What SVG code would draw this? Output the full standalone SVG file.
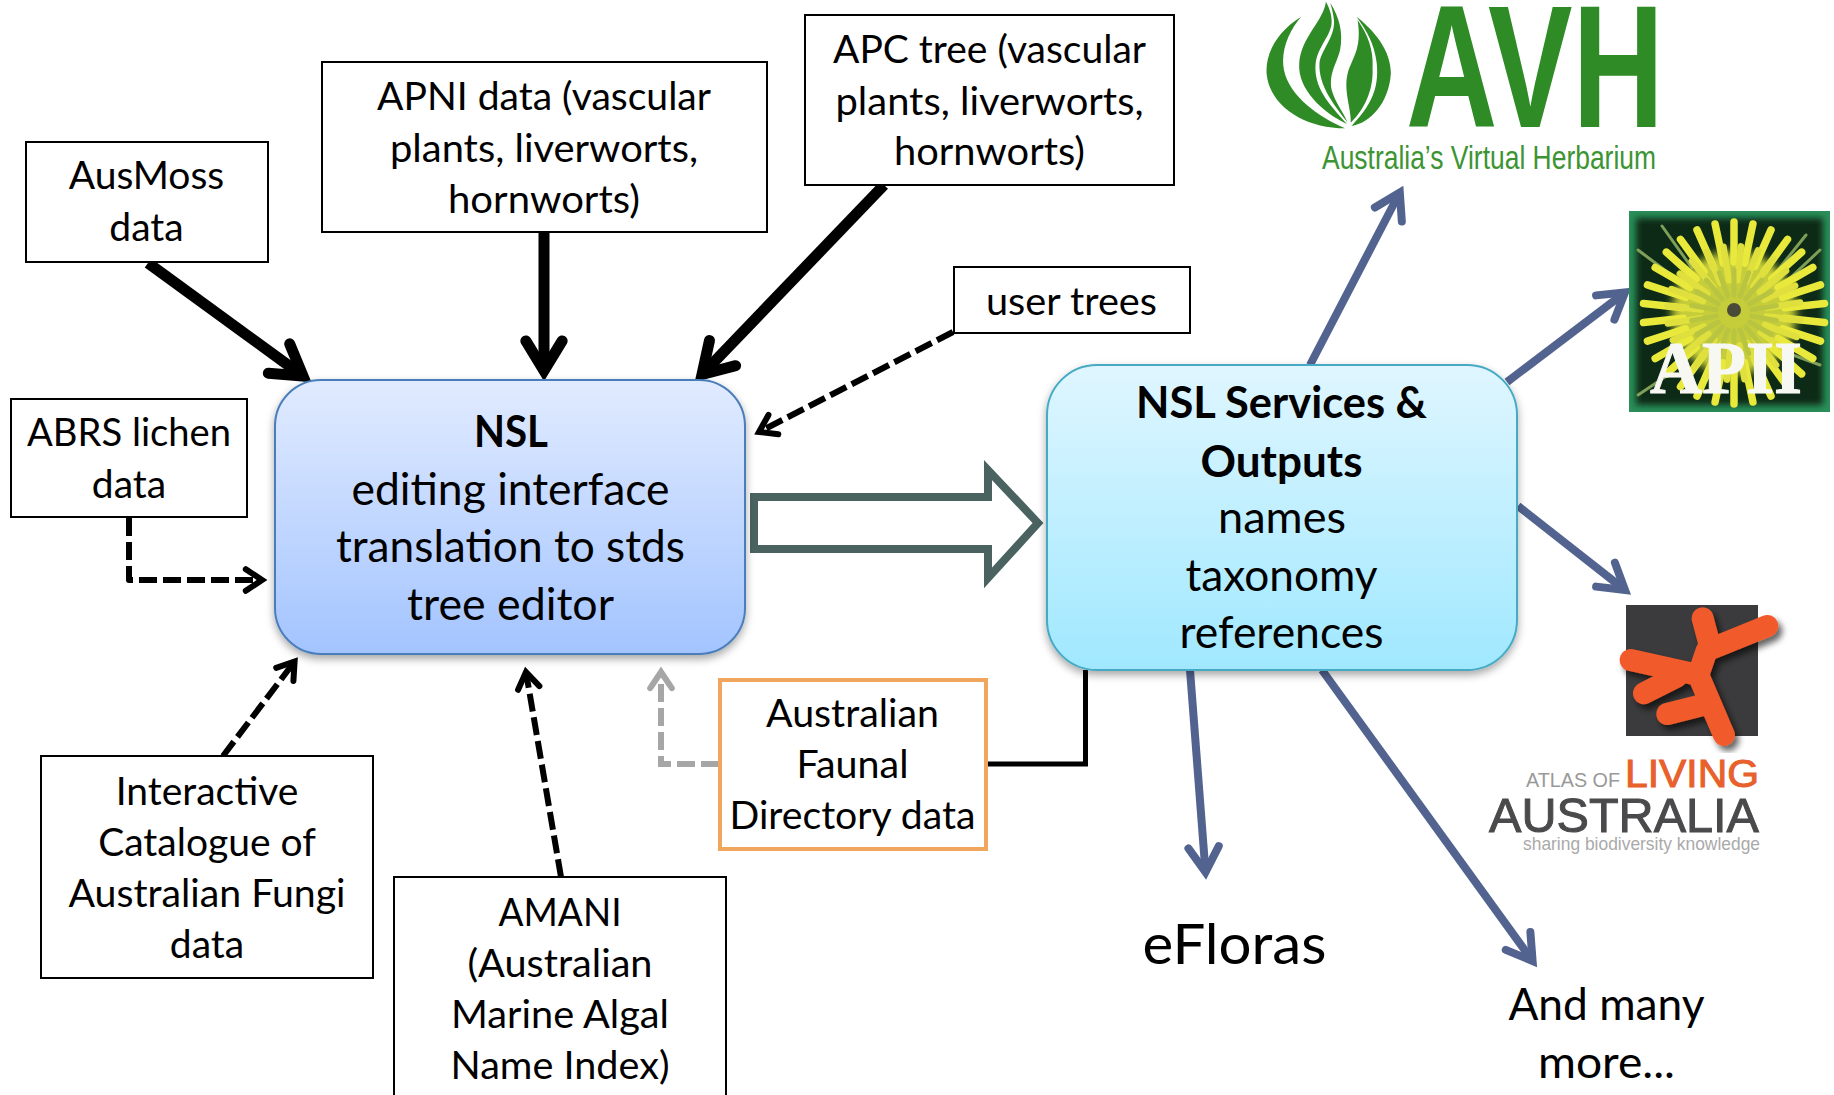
<svg xmlns="http://www.w3.org/2000/svg" width="1834" height="1095" viewBox="0 0 1834 1095">
<style>
text{font-family:"Lato","Open Sans","Liberation Sans",sans-serif;fill:#000}
.t{font-size:39px;text-anchor:middle}
.m{font-size:44px;text-anchor:middle}
.b{font-weight:700}
.box{fill:#fff;stroke:#000;stroke-width:2}
.thick{fill:none;stroke:#000;stroke-width:11;marker-end:url(#hBlack)}
.dash{fill:none;stroke:#000;stroke-width:6;stroke-dasharray:18 6;stroke-linejoin:round;marker-end:url(#hDash)}
.gray{fill:none;stroke:#a6a6a6;stroke-width:6;stroke-dasharray:18 6;marker-end:url(#hGray)}
.blue{fill:none;stroke:#526390;stroke-width:8;marker-end:url(#hBlue)}
.logo{font-family:"Liberation Sans","Open Sans",sans-serif}
.s1{stroke:#e9e93c;stroke-width:7.5;stroke-linecap:round}
.s2{stroke:#dfe03e;stroke-width:6.5;stroke-linecap:round}
.s3{stroke:#b9c540;stroke-width:5;stroke-linecap:round}
.leaf{stroke:#7f9f58;stroke-width:3;stroke-linecap:round}
</style>
<defs>
<marker id="hBlack" markerUnits="strokeWidth" viewBox="-5 -4 7 8" markerWidth="7" markerHeight="8" refX="0" refY="0" orient="auto"><path d="M-2.7,-1.65L0,0L-2.7,1.65" fill="none" stroke="#000" stroke-width="1" stroke-linecap="round" stroke-miterlimit="6"/></marker>
<marker id="hDash" markerUnits="strokeWidth" viewBox="-5 -4 7 8" markerWidth="7" markerHeight="8" refX="0" refY="0" orient="auto"><path d="M-2.7,-1.8L0,0L-2.7,1.8" fill="none" stroke="#000" stroke-width="1" stroke-dasharray="none" stroke-linecap="round" stroke-miterlimit="6"/></marker>
<marker id="hGray" markerUnits="strokeWidth" viewBox="-5 -4 7 8" markerWidth="7" markerHeight="8" refX="0" refY="0" orient="auto"><path d="M-2.7,-1.8L0,0L-2.7,1.8" fill="none" stroke="#a6a6a6" stroke-width="1" stroke-linecap="round" stroke-miterlimit="6"/></marker>
<marker id="hBlue" markerUnits="strokeWidth" viewBox="-5 -4 7 8" markerWidth="7" markerHeight="8" refX="0" refY="0" orient="auto"><path d="M-3.1,-1.9L0,0L-3.1,1.9" fill="none" stroke="#526390" stroke-width="1" stroke-linecap="round" stroke-miterlimit="6"/></marker>
<linearGradient id="gNsl" x1="0" y1="0" x2="0" y2="1"><stop offset="0" stop-color="#e1ebff"/><stop offset="1" stop-color="#a3c4ff"/></linearGradient>
<linearGradient id="gSvc" x1="0" y1="0" x2="0" y2="1"><stop offset="0" stop-color="#dff6ff"/><stop offset="1" stop-color="#a0e8ff"/></linearGradient>
<filter id="sh" x="-5%" y="-5%" width="110%" height="115%"><feDropShadow dx="0" dy="4" stdDeviation="4" flood-color="#000" flood-opacity=".35"/></filter>
<filter id="sh2" x="-10%" y="-10%" width="125%" height="125%"><feDropShadow dx="12" dy="15" stdDeviation="9" flood-color="#000" flood-opacity=".6"/></filter>
<filter id="bl"><feGaussianBlur stdDeviation="5"/></filter>
<filter id="bl2" x="-5%" y="-5%" width="110%" height="110%"><feGaussianBlur stdDeviation="3"/></filter>
<line id="sp1" x1="1734" y1="222" x2="1734" y2="262" class="s1"/>
<line id="sp2" x1="1734" y1="246" x2="1734" y2="280" class="s2"/>
<line id="sp3" x1="1734" y1="270" x2="1734" y2="295" class="s3"/>
</defs>

<g id="connectors">
<line class="thick" x1="148" y1="263" x2="303" y2="376"/>
<line class="thick" x1="544" y1="232" x2="544" y2="370.6"/>
<line class="thick" x1="884" y1="185" x2="702" y2="374.5"/>
<line class="dash" x1="953" y1="332" x2="759" y2="432"/>
<polyline class="dash" points="129,518 129,580 262,580"/>
<line class="dash" x1="223" y1="756" x2="294.6" y2="661.5"/>
<line class="dash" x1="561" y1="877" x2="526" y2="672"/>
<polyline class="gray" points="719,764 661,764 661,672"/>
<polyline points="986,764 1085.5,764 1085.5,670" fill="none" stroke="#000" stroke-width="5"/>
<line class="blue" x1="1310" y1="365" x2="1399.8" y2="192.5"/>
<line class="blue" x1="1507" y1="382" x2="1625" y2="292.5"/>
<line class="blue" x1="1518" y1="506" x2="1625" y2="590"/>
<line class="blue" x1="1190" y1="670" x2="1205.5" y2="872"/>
<line class="blue" x1="1322" y1="670" x2="1532.6" y2="961"/>
</g>

<g id="transfer-arrow"><path d="M754,497H988V470L1038,523L988,578V549H754Z" fill="#fff" stroke="#4a6360" stroke-width="8"/></g>

<g id="node-ausmoss"><rect class="box" x="26" y="142" width="242" height="120"/><text class="t" x="146.5" y="189">AusMoss</text><text class="t" x="146.5" y="241">data</text></g>
<g id="node-apni"><rect class="box" x="322" y="62" width="445" height="170"/><text class="t" x="544" y="110" textLength="334" lengthAdjust="spacingAndGlyphs">APNI data (vascular</text><text class="t" x="544" y="162" textLength="308" lengthAdjust="spacingAndGlyphs">plants, liverworts,</text><text class="t" x="544" y="213" textLength="192" lengthAdjust="spacingAndGlyphs">hornworts)</text></g>
<g id="node-apc"><rect class="box" x="805" y="15" width="369" height="170"/><text class="t" x="989.5" y="63" textLength="313" lengthAdjust="spacingAndGlyphs">APC tree (vascular</text><text class="t" x="989.5" y="115" textLength="308" lengthAdjust="spacingAndGlyphs">plants, liverworts,</text><text class="t" x="989.5" y="165" textLength="191" lengthAdjust="spacingAndGlyphs">hornworts)</text></g>
<g id="node-user"><rect class="box" x="954" y="267" width="236" height="66"/><text class="t" x="1071.5" y="315" textLength="171" lengthAdjust="spacingAndGlyphs">user trees</text></g>
<g id="node-abrs"><rect class="box" x="11" y="399" width="236" height="118"/><text class="t" x="129" y="446" textLength="204" lengthAdjust="spacingAndGlyphs">ABRS lichen</text><text class="t" x="129" y="498">data</text></g>
<g id="node-fungi"><rect class="box" x="41" y="756" width="332" height="222"/><text class="t" x="207" y="805">Interactive</text><text class="t" x="207" y="856">Catalogue of</text><text class="t" x="207" y="907" textLength="277" lengthAdjust="spacingAndGlyphs">Australian Fungi</text><text class="t" x="207" y="958">data</text></g>
<g id="node-amani"><rect class="box" x="394" y="877" width="332" height="230"/><text class="t" x="560" y="926" textLength="123" lengthAdjust="spacingAndGlyphs">AMANI</text><text class="t" x="560" y="977" textLength="185" lengthAdjust="spacingAndGlyphs">(Australian</text><text class="t" x="560" y="1028" textLength="218" lengthAdjust="spacingAndGlyphs">Marine Algal</text><text class="t" x="560" y="1079" textLength="219" lengthAdjust="spacingAndGlyphs">Name Index)</text></g>
<g id="node-faunal"><rect x="720" y="680" width="266" height="169" fill="#fff" stroke="#f0a65c" stroke-width="4"/><text class="t" x="852.5" y="727" textLength="173" lengthAdjust="spacingAndGlyphs">Australian</text><text class="t" x="852.5" y="778" textLength="112" lengthAdjust="spacingAndGlyphs">Faunal</text><text class="t" x="852.5" y="829" textLength="246" lengthAdjust="spacingAndGlyphs">Directory data</text></g>

<g id="node-nsl"><rect x="275" y="380" width="470" height="274" rx="46" fill="url(#gNsl)" stroke="#4a7ebb" stroke-width="2" filter="url(#sh)"/><text class="m b" x="511" y="447" textLength="74" lengthAdjust="spacingAndGlyphs">NSL</text><text class="m" x="510.5" y="505" textLength="318" lengthAdjust="spacingAndGlyphs">editing interface</text><text class="m" x="510.5" y="562" textLength="349" lengthAdjust="spacingAndGlyphs">translation to stds</text><text class="m" x="510.5" y="620" textLength="207" lengthAdjust="spacingAndGlyphs">tree editor</text></g>
<g id="node-services"><rect x="1047" y="365" width="470" height="305" rx="50" fill="url(#gSvc)" stroke="#46aac4" stroke-width="2" filter="url(#sh)"/><text class="m b" x="1281.5" y="418" textLength="291" lengthAdjust="spacingAndGlyphs">NSL Services &amp;</text><text class="m b" x="1281.5" y="477">Outputs</text><text class="m" x="1282" y="533" textLength="128" lengthAdjust="spacingAndGlyphs">names</text><text class="m" x="1281.5" y="591" textLength="192" lengthAdjust="spacingAndGlyphs">taxonomy</text><text class="m" x="1281.5" y="648" textLength="204" lengthAdjust="spacingAndGlyphs">references</text></g>

<g id="node-efloras"><text x="1234.5" y="964" font-size="57" text-anchor="middle" textLength="184" lengthAdjust="spacingAndGlyphs">eFloras</text></g>
<g id="node-more"><text class="m" x="1606.5" y="1020" textLength="196" lengthAdjust="spacingAndGlyphs">And many</text><text class="m" x="1606.5" y="1078" textLength="137" lengthAdjust="spacingAndGlyphs">more...</text></g>

<g id="node-avh">
<g transform="translate(1240,0) scale(.382,.3333)" fill="#2e8b25">
<path d="M160,50C90,100 65,170 70,225C80,320 170,385 275,385C205,350 130,290 115,210C105,150 130,90 160,50Z"/>
<path d="M225,5C218,65 160,110 155,190C150,270 220,340 280,372C232,312 192,262 198,190C203,140 240,105 240,65C240,40 232,20 225,5Z"/>
<path d="M236,8C262,55 270,100 262,150C252,195 232,220 240,270C250,310 270,335 282,368C250,320 205,260 208,190C212,150 250,110 246,60C244,40 240,22 236,8Z"/>
<path d="M305,50C350,90 395,150 395,220C390,310 340,370 292,378C340,320 365,270 358,190C352,130 330,90 305,50Z"/>
<path d="M308,60C335,105 350,150 347,205C350,270 325,330 290,368C292,330 270,270 282,220C292,175 320,150 308,60Z"/>
</g>
<text class="logo" x="1406" y="127" font-size="174" font-weight="700" style="fill:#2e8b25" textLength="258" lengthAdjust="spacingAndGlyphs">AVH</text>
<text class="logo" x="1322" y="169" font-size="33" style="fill:#3c9433" textLength="334" lengthAdjust="spacingAndGlyphs">Australia’s Virtual Herbarium</text>
</g>

<g id="node-api">
<rect x="1629" y="211" width="201" height="201" fill="#2a8f5a"/>
<rect x="1636" y="218" width="187" height="187" fill="#0b2a14" filter="url(#bl2)"/>
<line class="leaf" x1="1662" y1="226" x2="1692" y2="268"/><line class="leaf" x1="1806" y1="235" x2="1778" y2="270"/><line class="leaf" x1="1820" y1="250" x2="1788" y2="280"/><line class="leaf" x1="1638" y1="250" x2="1678" y2="280"/><line class="leaf" x1="1820" y1="365" x2="1793" y2="355"/><line class="leaf" x1="1638" y1="395" x2="1668" y2="375"/>
<circle cx="1734" cy="313" r="62" fill="#c6cd3a" filter="url(#bl)"/>
<g>
<use href="#sp1"/><use href="#sp1" transform="rotate(12 1734 313)"/><use href="#sp1" transform="rotate(24 1734 313)"/><use href="#sp1" transform="rotate(36 1734 313)"/><use href="#sp1" transform="rotate(48 1734 313)"/><use href="#sp1" transform="rotate(60 1734 313)"/><use href="#sp1" transform="rotate(72 1734 313)"/><use href="#sp1" transform="rotate(84 1734 313)"/><use href="#sp1" transform="rotate(96 1734 313)"/><use href="#sp1" transform="rotate(108 1734 313)"/><use href="#sp1" transform="rotate(120 1734 313)"/><use href="#sp1" transform="rotate(132 1734 313)"/><use href="#sp1" transform="rotate(144 1734 313)"/><use href="#sp1" transform="rotate(156 1734 313)"/><use href="#sp1" transform="rotate(168 1734 313)"/><use href="#sp1" transform="rotate(180 1734 313)"/><use href="#sp1" transform="rotate(192 1734 313)"/><use href="#sp1" transform="rotate(204 1734 313)"/><use href="#sp1" transform="rotate(216 1734 313)"/><use href="#sp1" transform="rotate(228 1734 313)"/><use href="#sp1" transform="rotate(240 1734 313)"/><use href="#sp1" transform="rotate(252 1734 313)"/><use href="#sp1" transform="rotate(264 1734 313)"/><use href="#sp1" transform="rotate(276 1734 313)"/><use href="#sp1" transform="rotate(288 1734 313)"/><use href="#sp1" transform="rotate(300 1734 313)"/><use href="#sp1" transform="rotate(312 1734 313)"/><use href="#sp1" transform="rotate(324 1734 313)"/><use href="#sp1" transform="rotate(336 1734 313)"/><use href="#sp1" transform="rotate(348 1734 313)"/>
<use href="#sp2" transform="rotate(6 1734 313)"/><use href="#sp2" transform="rotate(21 1734 313)"/><use href="#sp2" transform="rotate(36 1734 313)"/><use href="#sp2" transform="rotate(51 1734 313)"/><use href="#sp2" transform="rotate(66 1734 313)"/><use href="#sp2" transform="rotate(81 1734 313)"/><use href="#sp2" transform="rotate(96 1734 313)"/><use href="#sp2" transform="rotate(111 1734 313)"/><use href="#sp2" transform="rotate(126 1734 313)"/><use href="#sp2" transform="rotate(141 1734 313)"/><use href="#sp2" transform="rotate(156 1734 313)"/><use href="#sp2" transform="rotate(171 1734 313)"/><use href="#sp2" transform="rotate(186 1734 313)"/><use href="#sp2" transform="rotate(201 1734 313)"/><use href="#sp2" transform="rotate(216 1734 313)"/><use href="#sp2" transform="rotate(231 1734 313)"/><use href="#sp2" transform="rotate(246 1734 313)"/><use href="#sp2" transform="rotate(261 1734 313)"/><use href="#sp2" transform="rotate(276 1734 313)"/><use href="#sp2" transform="rotate(291 1734 313)"/><use href="#sp2" transform="rotate(306 1734 313)"/><use href="#sp2" transform="rotate(321 1734 313)"/><use href="#sp2" transform="rotate(336 1734 313)"/><use href="#sp2" transform="rotate(351 1734 313)"/>
<use href="#sp3"/><use href="#sp3" transform="rotate(20 1734 313)"/><use href="#sp3" transform="rotate(40 1734 313)"/><use href="#sp3" transform="rotate(60 1734 313)"/><use href="#sp3" transform="rotate(80 1734 313)"/><use href="#sp3" transform="rotate(100 1734 313)"/><use href="#sp3" transform="rotate(120 1734 313)"/><use href="#sp3" transform="rotate(140 1734 313)"/><use href="#sp3" transform="rotate(160 1734 313)"/><use href="#sp3" transform="rotate(180 1734 313)"/><use href="#sp3" transform="rotate(200 1734 313)"/><use href="#sp3" transform="rotate(220 1734 313)"/><use href="#sp3" transform="rotate(240 1734 313)"/><use href="#sp3" transform="rotate(260 1734 313)"/><use href="#sp3" transform="rotate(280 1734 313)"/><use href="#sp3" transform="rotate(300 1734 313)"/><use href="#sp3" transform="rotate(320 1734 313)"/><use href="#sp3" transform="rotate(340 1734 313)"/>
</g>
<circle cx="1734" cy="310" r="7" fill="#4a4a38"/>
<text x="1650" y="393" font-size="74" font-weight="700" style="font-family:'Liberation Serif',serif;fill:#f8f8f2;stroke:#f8f8f2;stroke-width:1" textLength="152" lengthAdjust="spacingAndGlyphs">APII</text>
</g>

<g id="node-ala">
<rect x="1626" y="605" width="132" height="131" fill="#3b3b3d"/>
<g transform="translate(1440,580) scale(.3333)" fill="none" stroke="#f15a29" stroke-width="66" stroke-linecap="round" stroke-linejoin="round" filter="url(#sh2)">
<path d="M788,115L812,205M982,138L800,212L775,285L852,465M572,240L775,285M612,340L710,290M682,402L800,372"/>
</g>
<text class="logo" x="1526" y="787" font-size="20" style="fill:#999" textLength="94" lengthAdjust="spacingAndGlyphs">ATLAS OF</text>
<text class="logo" x="1625" y="787" font-size="39" style="fill:#e8602c;stroke:#e8602c;stroke-width:1" textLength="134" lengthAdjust="spacingAndGlyphs">LIVING</text>
<text class="logo" x="1489" y="832" font-size="48" style="fill:#4a4a4c;stroke:#4a4a4c;stroke-width:1" textLength="270" lengthAdjust="spacingAndGlyphs">AUSTRALIA</text>
<text class="logo" x="1523" y="850" font-size="19" style="fill:#aaa" textLength="237" lengthAdjust="spacingAndGlyphs">sharing biodiversity knowledge</text>
</g>
</svg>
